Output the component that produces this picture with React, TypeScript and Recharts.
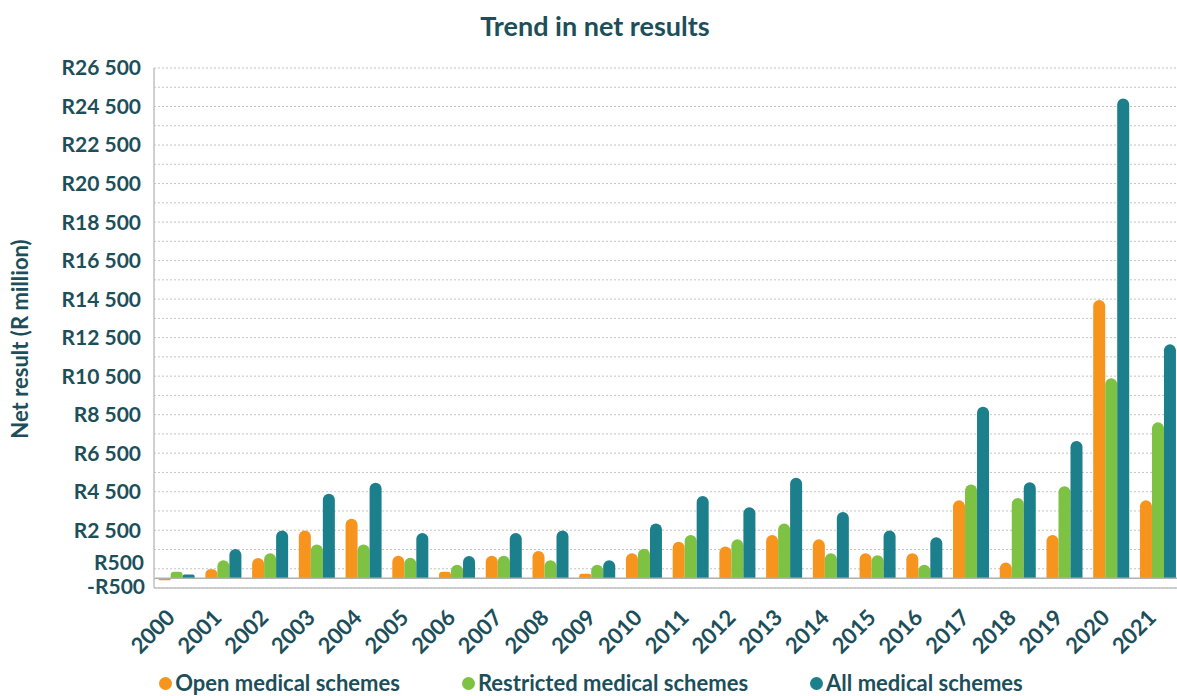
import React from 'react';
import { BarChart, Bar, XAxis, YAxis, CartesianGrid, Legend, ReferenceLine } from 'recharts';

const years = [
  '2000', '2001', '2002', '2003', '2004', '2005', '2006', '2007', '2008', '2009', '2010',
  '2011', '2012', '2013', '2014', '2015', '2016', '2017', '2018', '2019', '2020', '2021',
];

const openSchemes = [
  -100, 470, 1055, 2490, 3100, 1180, 350, 1180, 1420, 240, 1300,
  1900, 1660, 2250, 2025, 1300, 1300, 4050, 830, 2250, 14450, 4050,
];

const restrictedSchemes = [
  350, 935, 1300, 1765, 1765, 1075, 710, 1180, 935, 710, 1540,
  2250, 2025, 2855, 1300, 1195, 710, 4880, 4170, 4780, 10385, 8100,
];

const allSchemes = [
  200, 1520, 2490, 4400, 4970, 2350, 1160, 2350, 2490, 935, 2855,
  4275, 3690, 5225, 3445, 2490, 2130, 8915, 4985, 7130, 24920, 12150,
];

// gridlines every 1000, labels every 2000 (plus -500 at the bottom)
const yTicks = [
  -500, 500, 1500, 2500, 3500, 4500, 5500, 6500, 7500, 8500, 9500, 10500, 11500, 12500,
  13500, 14500, 15500, 16500, 17500, 18500, 19500, 20500, 21500, 22500, 23500, 24500, 25500, 26500,
];
const yLabels = [
  -500, 500, 2500, 4500, 6500, 8500, 10500, 12500, 14500, 16500, 18500, 20500, 22500, 24500, 26500,
];

const seriesNames = ['Open medical schemes', 'Restricted medical schemes', 'All medical schemes'];
const seriesColors = ['#F7941D', '#7DC242', '#1B7F8C'];

const data = years.map((year, i) => ({
  year,
  open: openSchemes[i],
  restricted: restrictedSchemes[i],
  all: allSchemes[i],
}));

const TEXT = '#1D4F5A';
const FONT = 'Lato, "Open Sans", sans-serif';

const formatRand = (v: number) => {
  const abs = Math.abs(v);
  const s = abs >= 1000 ? `${Math.floor(abs / 1000)} ${String(abs % 1000).padStart(3, '0')}` : String(abs);
  return `${v < 0 ? '-' : ''}R${s}`;
};

const YTick = (props: any) => {
  const { x, y, payload } = props;
  if (!yLabels.includes(payload.value)) return null;
  // the two bottom labels sit close together, as in the source chart
  let dy = 0;
  let dx = 0;
  if (payload.value === -500) { dy = -1; dx = 4; }
  if (payload.value === 500) { dy = -6; dx = 3; }
  return (
    <text x={x + dx} y={y + dy} dy="0.355em" textAnchor="end" fill={TEXT}
      fontFamily={FONT} fontWeight={700} fontSize={21}>
      {formatRand(payload.value)}
    </text>
  );
};

const XTick = (props: any) => {
  const { x, y, payload } = props;
  return (
    <g transform={`translate(${x - 1},${y + 31})`}>
      <text x={0} y={0} textAnchor="end" transform="rotate(-45)" fill={TEXT}
        fontFamily={FONT} fontWeight={700} fontSize={22}>
        {payload.value}
      </text>
    </g>
  );
};

const renderLegend = () => (
  <div style={{ display: 'flex', justifyContent: 'center', gap: 62, paddingTop: 12, height: 26,
    fontFamily: FONT, fontWeight: 700, fontSize: 22, color: TEXT, lineHeight: '26px' }}>
    {seriesNames.map((name, i) => (
      <div key={name} style={{ display: 'flex', alignItems: 'center' }}>
        <span style={{ width: 13, height: 13, borderRadius: 7, background: seriesColors[i], marginRight: 3 }} />
        <span>{name}</span>
      </div>
    ))}
  </div>
);

export default function App() {
  return (
    <div style={{ position: 'absolute', left: 0, top: 0, width: 1177, height: 696, overflow: 'hidden', background: '#fff' }}>
      <div style={{ position: 'absolute', left: 0, top: 9, width: 1190, textAlign: 'center',
        fontFamily: FONT, fontWeight: 700, fontSize: 27, color: TEXT, lineHeight: '34px' }}>
        Trend in net results
      </div>
      <BarChart width={1182} height={696} data={data}
        margin={{ top: 68, right: 0, left: 0, bottom: 0 }}
        barCategoryGap="10%" barGap={0}>
        <CartesianGrid horizontal vertical={false} stroke="#c4c4c4" strokeDasharray="2 2" />
        <YAxis
          type="number"
          domain={[-500, 26500]}
          ticks={yTicks}
          interval={0}
          width={154}
          tickSize={0}
          tickMargin={13}
          tick={<YTick />}
          axisLine={{ stroke: '#c0c0c0', strokeWidth: 1.5 }}
          tickLine={false}
          label={{
            content: () => (
              <text x={0} y={0} transform="translate(28,339) rotate(-90)" textAnchor="middle"
                fill={TEXT} fontFamily={FONT} fontWeight={700} fontSize={22}>
                Net result (R million)
              </text>
            ),
          }}
        />
        <XAxis
          dataKey="year"
          interval={0}
          height={70}
          tickSize={0}
          tickMargin={0}
          tick={<XTick />}
          axisLine={{ stroke: '#c0c0c0', strokeWidth: 1.5 }}
          tickLine={false}
        />
        <ReferenceLine y={0} stroke="#b0b0b0" strokeWidth={1.5} />
        <Legend verticalAlign="bottom" content={renderLegend} />
        <Bar dataKey="open" name={seriesNames[0]} fill={seriesColors[0]} radius={[6, 6, 0, 0]} isAnimationActive={false} />
        <Bar dataKey="restricted" name={seriesNames[1]} fill={seriesColors[1]} radius={[6, 6, 0, 0]} isAnimationActive={false} />
        <Bar dataKey="all" name={seriesNames[2]} fill={seriesColors[2]} radius={[6, 6, 0, 0]} isAnimationActive={false} />
      </BarChart>
    </div>
  );
}
